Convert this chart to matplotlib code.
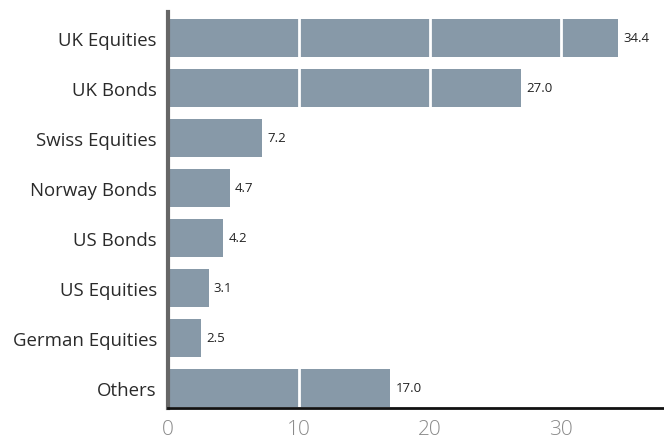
import matplotlib
matplotlib.use("Agg")
import matplotlib.pyplot as plt

categories = ["UK Equities", "UK Bonds", "Swiss Equities", "Norway Bonds",
              "US Bonds", "US Equities", "German Equities", "Others"]
values = [34.4, 27.0, 7.2, 4.7, 4.2, 3.1, 2.5, 17.0]
xticks = [0, 10, 20, 30]

plt.rcParams['font.family'] = ['Open Sans', 'DejaVu Sans']

fig = plt.figure(figsize=(6.64, 4.39), dpi=100)
ax = fig.add_axes([168/664, 30/439, 1 - 168/664, (409-13)/439])

y = list(range(len(categories)))
ax.barh(y, values, height=0.76, color="#8799a8", zorder=1)
for yi, v in zip(y, values):
    ax.text(v + 0.4, yi, f"{v:.1f}", va="center", ha="left", fontsize=9.5, color="#222222")

for t in xticks[1:]:
    ax.axvline(t, color="white", lw=2, zorder=2)

ax.set_xlim(0, 37.9)
ax.set_ylim(7.4, -0.52)
ax.set_yticks(y)
ax.set_yticklabels(categories, fontsize=13.4, color="#2a2a2a")
ax.set_xticks(xticks)
ax.set_xticklabels([str(t) for t in xticks], fontsize=15, color="#8a8a8a", fontweight="light")
ax.tick_params(axis="both", length=0)
ax.tick_params(axis="y", pad=8)
ax.tick_params(axis="x", pad=8)

for s in ["top", "right"]:
    ax.spines[s].set_visible(False)
ax.spines["left"].set_color("#666666")
ax.spines["left"].set_linewidth(3)
ax.spines["bottom"].set_color("#111111")
ax.spines["bottom"].set_linewidth(2)
ax.spines["left"].set_zorder(3)
ax.spines["bottom"].set_zorder(3)

fig.savefig("out.png", dpi=100)
